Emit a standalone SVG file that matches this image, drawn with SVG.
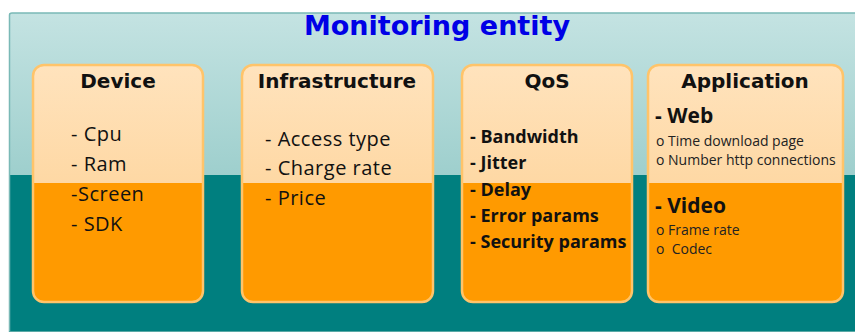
<svg xmlns="http://www.w3.org/2000/svg" width="855" height="336" viewBox="0 0 855 336">
<defs>
<linearGradient id="bgTop" x1="0" y1="0" x2="0" y2="1">
<stop offset="0" stop-color="#c4e3e2"/>
<stop offset="1" stop-color="#9ecfcd"/>
</linearGradient>
<linearGradient id="boxTop" x1="0" y1="0" x2="0" y2="1">
<stop offset="0" stop-color="#ffe3bd"/>
<stop offset="1" stop-color="#fed8a4"/>
</linearGradient>
<clipPath id="cDev"><rect x="33" y="65" width="170" height="237" rx="11"/></clipPath>
<clipPath id="cInf"><rect x="242" y="65" width="191" height="237" rx="11"/></clipPath>
<clipPath id="cQos"><rect x="462" y="65" width="170" height="237" rx="11"/></clipPath>
<clipPath id="cApp"><rect x="648" y="65" width="195" height="237" rx="11"/></clipPath>
</defs>
<style>
.hdr{font-family:"DejaVu Sans",Verdana,sans-serif;font-weight:bold;font-size:20px;fill:#111;text-anchor:middle}
.item{font-family:"Open Sans","Noto Sans",sans-serif;font-size:20px;fill:#111;letter-spacing:0.5px}
.bold{font-family:"Open Sans","Noto Sans",sans-serif;font-weight:bold;font-size:18px;fill:#111}
.big{font-family:"Open Sans","Noto Sans",sans-serif;font-weight:bold;font-size:21px;fill:#111}
.small{font-family:"Open Sans","Noto Sans",sans-serif;font-size:14px;fill:#222}
.top{fill:url(#boxTop)}
.bot{fill:#ff9a00}
.edge{fill:none;stroke:#ffc46a;stroke-width:2.5}
</style>
<rect x="0" y="0" width="855" height="336" fill="#ffffff"/>
<g id="monitoring-entity">
<rect x="9" y="13" width="852" height="162" fill="url(#bgTop)"/>
<rect x="9" y="175" width="852" height="157" fill="#007f7f"/>
<path d="M9.5 332 V15 Q9.5 13 12 13 H855" fill="none" stroke="#7ab9b6" stroke-width="1.5"/>
<line x1="9" y1="331.5" x2="855" y2="331.5" stroke="#5aa9a6" stroke-width="1"/>
<text x="437" y="35" font-family="DejaVu Sans,Verdana,sans-serif" font-weight="bold" font-size="27" fill="#0000e6" text-anchor="middle">Monitoring entity</text>
</g>
<g id="device">
<g clip-path="url(#cDev)">
<rect x="33" y="65" width="170" height="118" class="top"/>
<rect x="33" y="183" width="170" height="119" class="bot"/>
</g>
<rect x="33" y="65" width="170" height="237" rx="11" class="edge"/>
<text x="118" y="88" class="hdr">Device</text>
<text x="71" y="141" class="item">- Cpu</text>
<text x="71" y="171" class="item">- Ram</text>
<text x="71" y="201" class="item">-Screen</text>
<text x="71" y="231" class="item">- SDK</text>
</g>
<g id="infrastructure">
<g clip-path="url(#cInf)">
<rect x="242" y="65" width="191" height="118" class="top"/>
<rect x="242" y="183" width="191" height="119" class="bot"/>
</g>
<rect x="242" y="65" width="191" height="237" rx="11" class="edge"/>
<text x="337" y="88" class="hdr">Infrastructure</text>
<text x="265" y="146" class="item">- Access type</text>
<text x="265" y="175" class="item">- Charge rate</text>
<text x="265" y="205" class="item">- Price</text>
</g>
<g id="qos">
<g clip-path="url(#cQos)">
<rect x="462" y="65" width="170" height="118" class="top"/>
<rect x="462" y="183" width="170" height="119" class="bot"/>
</g>
<rect x="462" y="65" width="170" height="237" rx="11" class="edge"/>
<text x="547" y="88" class="hdr">QoS</text>
<text x="470" y="143" class="bold">- Bandwidth</text>
<text x="470" y="169" class="bold">- Jitter</text>
<text x="470" y="196" class="bold">- Delay</text>
<text x="470" y="222" class="bold">- Error params</text>
<text x="470" y="248" class="bold">- Security params</text>
</g>
<g id="application">
<g clip-path="url(#cApp)">
<rect x="648" y="65" width="195" height="118" class="top"/>
<rect x="648" y="183" width="195" height="119" class="bot"/>
</g>
<rect x="648" y="65" width="195" height="237" rx="11" class="edge"/>
<text x="745" y="88" class="hdr">Application</text>
<text x="655" y="123" class="big">- Web</text>
<text x="656" y="146" class="small">o Time download page</text>
<text x="656" y="165" class="small">o Number http connections</text>
<text x="655" y="213" class="big">- Video</text>
<text x="656" y="235" class="small">o Frame rate</text>
<text x="656" y="254" class="small" xml:space="preserve">o  Codec</text>
</g>
<g id="connectors"/>
</svg>
